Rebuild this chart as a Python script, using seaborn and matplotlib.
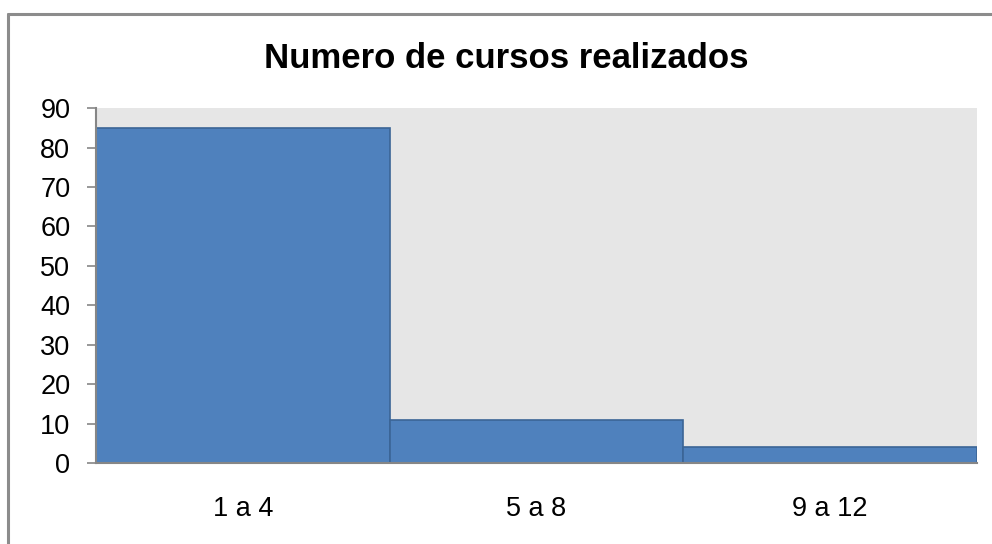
import pandas as pd
import seaborn as sns
import matplotlib.pyplot as plt
from matplotlib.lines import Line2D

categorias = ['1 a 4', '5 a 8', '9 a 12']
cursos = [85, 11, 4]
y_ticks = [0, 10, 20, 30, 40, 50, 60, 70, 80, 90]

df = pd.DataFrame({'categoria': categorias, 'cursos': cursos})

sns.set_theme(style='white', rc={'axes.facecolor': '#E6E6E6'})
plt.rcParams['font.family'] = ['Liberation Sans', 'DejaVu Sans']

fig = plt.figure(figsize=(9.92, 5.44), dpi=100)
ax = fig.add_axes([0.0968, 0.149, 0.888, 0.652])

sns.barplot(data=df, x='categoria', y='cursos', color='#4F81BD', saturation=1,
            width=1.0, edgecolor='#3B6596', linewidth=1.2, ax=ax)

ax.set_xlim(-0.5, 2.5)
ax.set_ylim(0, 90)
ax.set_yticks(y_ticks)
ax.set_xlabel('')
ax.set_ylabel('')
ax.tick_params(axis='y', labelsize=19.5, length=6.5, width=1.2, color='#868686',
               labelcolor='black', left=True, direction='out', pad=12)
ax.tick_params(axis='x', labelsize=19.5, length=0, pad=24, labelcolor='black')

for side in ['top', 'right']:
    ax.spines[side].set_visible(False)
for side in ['left', 'bottom']:
    ax.spines[side].set_color('#868686')
    ax.spines[side].set_linewidth(1.5)

fig.text(0.51, 0.875, 'Numero de cursos realizados', ha='center', va='baseline',
         fontsize=25, fontweight='bold', color='black')

# outer chart border (only top and left visible in the reference)
fig.add_artist(Line2D([0.0085, 1.0], [0.974, 0.974], color='#8C8C8C', lw=2.2))
fig.add_artist(Line2D([0.0085, 0.0085], [0.0, 0.974], color='#8C8C8C', lw=2.2))

fig.savefig('out.png', dpi=100)
